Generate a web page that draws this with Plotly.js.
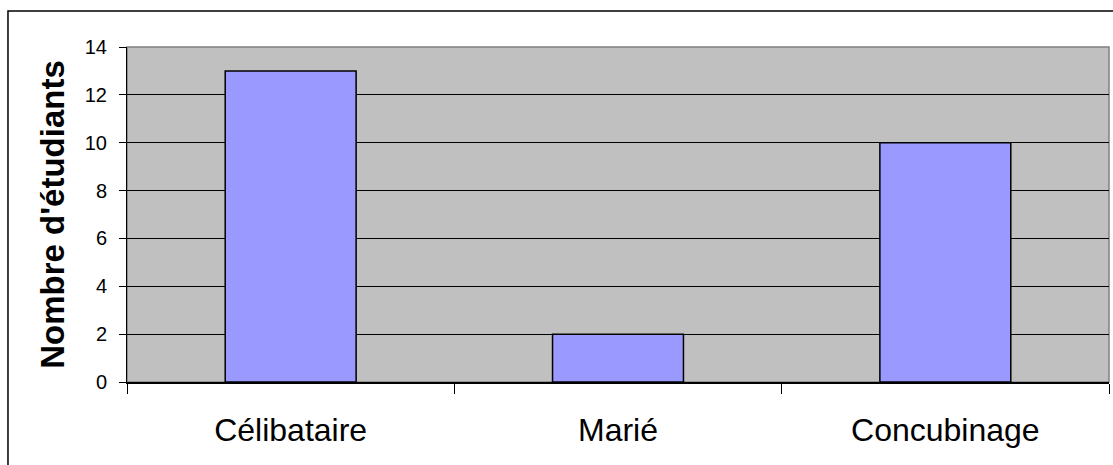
<!DOCTYPE html>
<html>
<head>
<meta charset="utf-8">
<script src="https://cdn.plot.ly/plotly-3.0.1.min.js"></script>
<style>html,body{margin:0;padding:0;background:#fff;}#chart{width:1113px;height:465px;}</style>
</head>
<body>
<div id="chart"></div>
<script>
const categories = ["Célibataire", "Marié", "Concubinage"];
const counts = [13, 2, 10];
const yTitle = "Nombre d'étudiants";

const trace = {
  type: 'bar',
  x: categories,
  y: counts,
  marker: {color: '#9999FF', line: {color: '#000000', width: 1.5}},
  hoverinfo: 'x+y'
};

const FONT = 'Liberation Sans, Arial, sans-serif';

const layout = {
  width: 1113, height: 465,
  margin: {l: 127, r: 4, t: 47, b: 83, pad: 0},
  paper_bgcolor: '#FFFFFF',
  plot_bgcolor: '#C0C0C0',
  bargap: 0.6,
  showlegend: false,
  font: {family: FONT, color: '#000'},
  xaxis: {
    type: 'category',
    tickson: 'boundaries',
    ticks: 'outside', ticklen: 10, tickwidth: 1, tickcolor: '#000',
    showline: true, linecolor: '#000', linewidth: 1.5,
    showgrid: false,
    tickfont: {size: 32, family: FONT},
    ticklabelstandoff: 19,
    fixedrange: true
  },
  yaxis: {
    range: [0, 14], dtick: 2, tick0: 0,
    ticks: 'outside', ticklen: 7, tickwidth: 1, tickcolor: '#000',
    showline: true, linecolor: '#000', linewidth: 1,
    showgrid: true, gridcolor: '#000', gridwidth: 1,
    zeroline: false,
    tickfont: {size: 20, family: FONT},
    ticklabelstandoff: 8,
    title: {text: yTitle, font: {size: 33, family: FONT, weight: 'bold'}, standoff: 10},
    fixedrange: true
  },
  shapes: [
    {type: 'rect', xref: 'paper', yref: 'paper', x0: 0, x1: 1, y0: 0, y1: 1,
     line: {color: '#808080', width: 1.5}, layer: 'below'},
    {type: 'rect', xref: 'paper', yref: 'paper', x0: -0.1212, x1: 1.02, y0: -0.3, y1: 1.1075,
     line: {color: '#000', width: 1.5}, fillcolor: 'rgba(0,0,0,0)', layer: 'above'}
  ]
};

Plotly.newPlot('chart', [trace], layout, {displayModeBar: false, staticPlot: true});
</script>
</body>
</html>
